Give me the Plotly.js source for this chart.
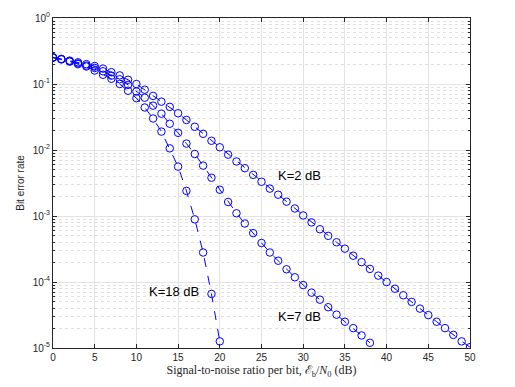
<!DOCTYPE html>
<html>
<head>
<meta charset="utf-8">
<script src="https://cdn.plot.ly/plotly-3.0.1.min.js"></script>
<style>html,body{margin:0;padding:0;background:#fff;}#chart{width:515px;height:387px;}</style>
</head>
<body>
<div id="chart"></div>
<script>
const snrK2 = [0,1,2,3,4,5,6,7,8,9,10,11,12,13,14,15,16,17,18,19,20,21,22,23,24,25,26,27,28,29,30,31,32,33,34,35,36,37,38,39,40,41,42,43,44,45,46,47,48,49,50];
const berK2 = [0.254,0.24,0.226,0.213,0.2,0.187,0.171,0.151,0.135,0.116,0.1,0.082,0.066,0.054,0.045,0.036,0.0285,0.0225,0.0176,0.0138,0.011,0.0085,0.0067,0.0053,0.0042,0.0033,0.0026,0.0021,0.00165,0.0013,0.00102,8.0e-4,6.3e-4,5.0e-4,4.0e-4,3.2e-4,2.5e-4,2.0e-4,1.58e-4,1.25e-4,1.0e-4,7.9e-5,6.3e-5,5.0e-5,3.95e-5,3.15e-5,2.5e-5,2.0e-5,1.58e-5,1.26e-5,1.03e-5];
const snrK7 = [0,1,2,3,4,5,6,7,8,9,10,11,12,13,14,15,16,17,18,19,20,21,22,23,24,25,26,27,28,29,30,31,32,33,34,35,36,37,38];
const berK7 = [0.252,0.238,0.222,0.205,0.19,0.175,0.156,0.134,0.118,0.097,0.077,0.062,0.047,0.0355,0.025,0.0182,0.0125,0.0087,0.0058,0.0038,0.0025,0.00163,0.0011,7.7e-4,5.5e-4,3.9e-4,2.8e-4,2.1e-4,1.56e-4,1.18e-4,9.0e-5,6.9e-5,5.4e-5,4.15e-5,3.2e-5,2.5e-5,2.0e-5,1.55e-5,1.2e-5];
const snrK18 = [0,1,2,3,4,5,6,7,8,9,10,11,12,13,14,15,16,17,18,19,20];
const berK18 = [0.25,0.236,0.218,0.2,0.184,0.16,0.138,0.12,0.1,0.079,0.061,0.044,0.030,0.019,0.0106,0.0056,0.0024,8.9e-4,2.8e-4,6.6e-5,1.26e-5];

const yTickVals = [1e-5,1e-4,1e-3,1e-2,1e-1,1];
const yTickText = ['10<sup>-5</sup>','10<sup>-4</sup>','10<sup>-3</sup>','10<sup>-2</sup>','10<sup>-1</sup>','10<sup>0</sup>'];
const xTickVals = [0,5,10,15,20,25,30,35,40,45,50];

const labels = [
  {text:'K=2 dB', x:29.5, y:-2.38},
  {text:'K=7 dB', x:29.6, y:-4.53},
  {text:'K=18 dB', x:14.5, y:-4.14}
];

const blue = '#0000ff';
function trace(x, y, dash) {
  return {
    x: x, y: y, type: 'scatter', mode: 'lines+markers',
    line: {color: blue, width: 1, dash: dash},
    marker: {symbol: 'circle-open', size: 7.5, color: blue, line: {width: 1, color: blue}},
    showlegend: false, hoverinfo: 'skip'
  };
}

const data = [trace(snrK2, berK2, 'dash'), trace(snrK7, berK7, 'dash'), trace(snrK18, berK18, 'dash')];

const axisFont = {family: 'Liberation Sans, Arial, sans-serif', size: 10, color: '#262626'};

const layout = {
  width: 515, height: 387,
  margin: {l: 53, r: 45, t: 18, b: 39},
  paper_bgcolor: '#ffffff', plot_bgcolor: '#ffffff',
  showlegend: false,
  xaxis: {
    range: [0, 50], tickvals: xTickVals, ticks: 'inside', ticklen: 4, tickcolor: '#262626',
    showline: true, linecolor: '#262626', linewidth: 1, mirror: 'ticks',
    showgrid: true, gridcolor: '#e3e3e3', gridwidth: 1, zeroline: false,
    tickfont: axisFont,
    title: {text: 'Signal-to-noise ratio per bit, ℰ<sub>b</sub>/<i>N</i><sub>0</sub> (dB)', font: {family: 'Liberation Serif, Times New Roman, serif', size: 12, color: '#262626'}, standoff: 0}
  },
  yaxis: {
    type: 'log', range: [-5, 0], tickvals: yTickVals, ticktext: yTickText,
    ticks: 'inside', ticklen: 4, tickcolor: '#262626',
    showline: true, linecolor: '#262626', linewidth: 1, mirror: 'ticks',
    showgrid: true, gridcolor: '#e3e3e3', gridwidth: 1, zeroline: false,
    tickfont: axisFont,
    minor: {dtick: 'D1', showgrid: true, gridcolor: '#e0e0e0', griddash: 'dot', gridwidth: 1, ticks: 'inside', ticklen: 2, tickcolor: '#262626'},
    title: {text: 'Bit error rate', font: {family: 'Liberation Sans, Arial, sans-serif', size: 10, color: '#262626'}, standoff: 6}
  },
  annotations: labels.map(l => ({
    text: l.text, x: l.x, y: l.y, xref: 'x', yref: 'y', showarrow: false,
    font: {family: 'Liberation Sans, Arial, sans-serif', size: 13, color: '#000000'}
  }))
};

Plotly.newPlot('chart', data, layout, {staticPlot: true, displayModeBar: false});
</script>
</body>
</html>
